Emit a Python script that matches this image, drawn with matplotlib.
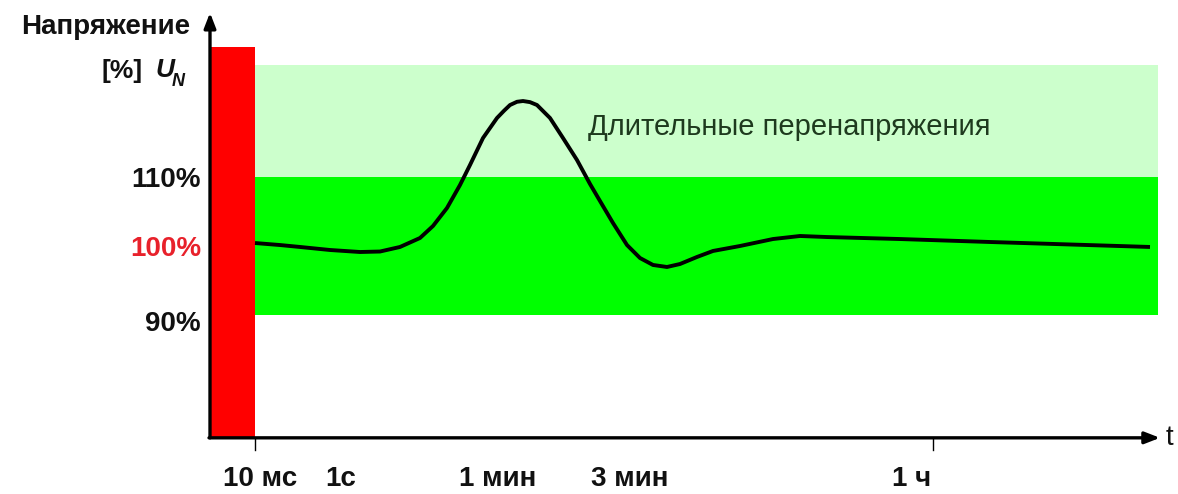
import matplotlib
matplotlib.use("Agg")
import matplotlib.pyplot as plt

plt.rcParams['font.family'] = ['Liberation Sans', 'DejaVu Sans']

# curve: position along time axis, voltage in % of U_N
curve_x = [255, 280, 300, 330, 360, 380, 400, 420, 433, 447, 460, 470, 483, 497,
           504, 510, 517, 523, 530, 537, 550, 563, 577, 590, 600, 613, 627, 640,
           653, 667, 680, 697, 713, 740, 773, 800, 827, 900, 990, 1150]
curve_y = [100.43, 100.14, 99.86, 99.42, 99.13, 99.20, 99.86, 101.16, 102.90,
           105.51, 108.84, 111.74, 115.65, 118.55, 119.6, 120.43, 120.9, 121.01,
           120.85, 120.43, 118.55, 115.65, 112.46, 108.99, 106.52, 103.33, 100.14,
           98.26, 97.25, 96.96, 97.39, 98.41, 99.28, 100.0, 101.01, 101.45, 101.30,
           101.01, 100.58, 99.86]

ytick_vals = [110, 100, 90]
ytick_labels = ['110%', '100%', '90%']
ytick_colors = ['#111111', '#e8212b', '#111111']

xtick_pos = [260, 341, 498, 630, 912]
xtick_labels = ['10 мс', '1с', '1 мин', '3 мин', '1 ч']
xmarks = [255, 933]

band_lo, band_hi, band_top = 90, 110, 126.2
band_x0, band_x1 = 255, 1158
red_x0, red_x1, red_top = 210, 255, 128.8
axis_x, axis_y = 210, 72.2
arrow_top, arrow_right = 133.8, 1160

fig = plt.figure(figsize=(11.78, 4.94), dpi=100)
ax = fig.add_axes([0, 0, 1, 1])
ax.set_xlim(0, 1178)
ax.set_ylim(64.06, 135.65)
ax.axis('off')

ax.fill_between([band_x0, band_x1], band_hi, band_top, color='#ccffcc', lw=0, zorder=1)
ax.fill_between([band_x0, band_x1], band_lo, band_hi, color='#00ff00', lw=0, zorder=1)
ax.fill_between([red_x0, red_x1], axis_y, red_top, color='#ff0000', lw=0, zorder=2)

ax.plot(curve_x, curve_y, color='black', lw=2.8, zorder=3,
        solid_capstyle='butt', solid_joinstyle='round')

# axes with arrows
ax.annotate('', xy=(axis_x, arrow_top), xytext=(axis_x, axis_y),
            arrowprops=dict(arrowstyle='-|>,head_length=0.9,head_width=0.35',
                            color='black', lw=2.4, shrinkA=0, shrinkB=0), zorder=4)
ax.annotate('', xy=(arrow_right, axis_y), xytext=(axis_x - 1, axis_y),
            arrowprops=dict(arrowstyle='-|>,head_length=0.9,head_width=0.35',
                            color='black', lw=2.4, shrinkA=0, shrinkB=0), zorder=4)
for xm in xmarks:
    ax.plot([xm, xm], [axis_y, axis_y - 1.8], color='black', lw=1.0, zorder=4)

for v, lab, c in zip(ytick_vals, ytick_labels, ytick_colors):
    ax.text(201, v + (-0.4 if v != 90 else -1.3), lab, ha='right', va='center',
            fontsize=20, fontweight='bold', color=c)

for xp, lab in zip(xtick_pos, xtick_labels):
    ax.text(xp, 66.3, lab, ha='center', va='center', fontsize=20,
            fontweight='bold', color='#111111')

ax.text(1166, axis_y, 't', ha='left', va='center', fontsize=20, color='#111111')

ax.text(190, 131.8, 'Напряжение', ha='right', va='center', fontsize=20,
        fontweight='bold', color='#111111')
ax.text(143, 125.3, '[%]', ha='right', va='center', fontsize=19,
        fontweight='bold', color='#111111')
ax.text(155, 125.5, 'U', ha='left', va='center', fontsize=19,
        fontweight='bold', fontstyle='italic', color='#111111')
ax.text(172, 123.9, 'N', ha='left', va='center', fontsize=13,
        fontweight='bold', fontstyle='italic', color='#111111')

ax.text(588, 117.3, 'Длительные перенапряжения', ha='left', va='center',
        fontsize=21, color='#1e3a1e')

fig.savefig('out.png', dpi=100)
